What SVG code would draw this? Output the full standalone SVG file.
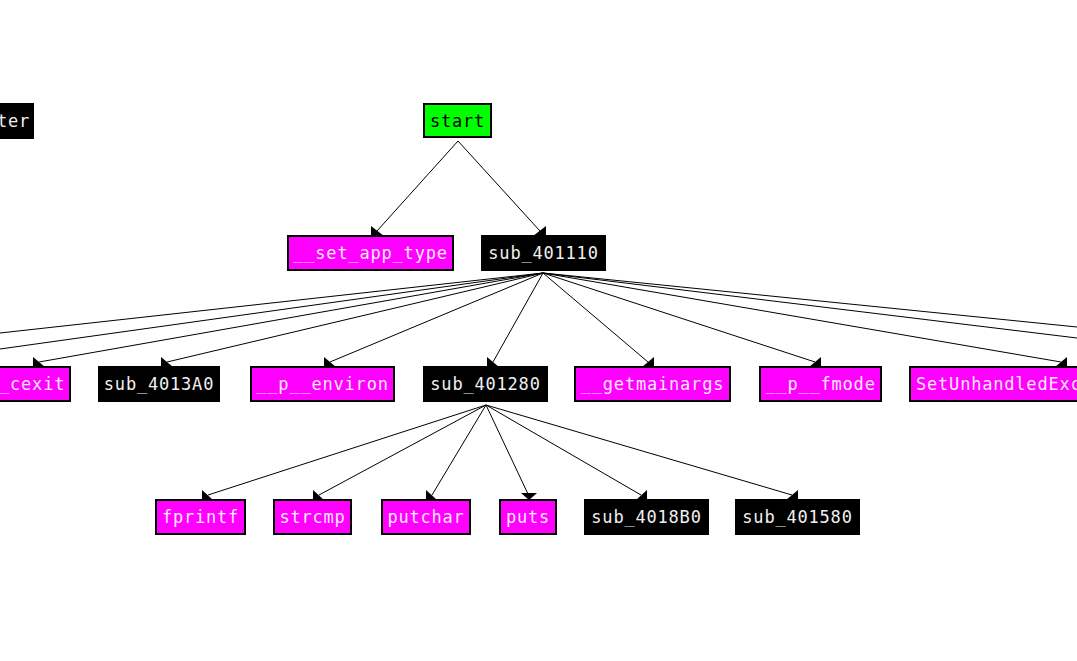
<svg xmlns="http://www.w3.org/2000/svg" width="1077" height="661" viewBox="0 0 1077 661">
<style>
.box{stroke:#000;stroke-width:2}
.blk{fill:#000}
.mag{fill:#ff00ff}
.grn{fill:#00ff00}
text{font-family:"DejaVu Sans Mono","Liberation Mono",monospace;font-size:17px;letter-spacing:0.8px}
.tw{fill:#f0f0f0}
.tm{fill:#ffe8ff}
.tb{fill:#000}
.e line{stroke:#000;stroke-width:1}
.e polygon{fill:#000}
</style>
<rect width="1077" height="661" fill="#fff"/>
<g id="edges" class="e">
<line x1="458" y1="141" x2="377" y2="231"/>
<polygon points="371,226 371,236 384,236"/>
<line x1="458" y1="141" x2="540" y2="231"/>
<polygon points="546,226 546,236 533,236"/>
<line x1="543" y1="273" x2="0" y2="333"/>
<line x1="543" y1="273" x2="0" y2="349"/>
<line x1="543" y1="273" x2="39" y2="362"/>
<polygon points="33,357 33,367 45,367"/>
<line x1="543" y1="273" x2="167" y2="362"/>
<polygon points="161,357 161,367 173,367"/>
<line x1="543" y1="273" x2="330" y2="362"/>
<polygon points="324,357 324,367 336,367"/>
<line x1="543" y1="273" x2="493" y2="362"/>
<polygon points="487,357 487,367 499,367"/>
<line x1="543" y1="273" x2="648" y2="362"/>
<polygon points="654,357 654,367 642,367"/>
<line x1="543" y1="273" x2="815" y2="362"/>
<polygon points="821,357 821,367 809,367"/>
<line x1="543" y1="273" x2="1061" y2="362"/>
<polygon points="1067,357 1067,367 1055,367"/>
<line x1="543" y1="273" x2="1077" y2="327"/>
<line x1="543" y1="273" x2="1077" y2="338"/>
<line x1="486" y1="405" x2="208" y2="495"/>
<polygon points="202,490 202,500 213,500"/>
<line x1="486" y1="405" x2="319" y2="495"/>
<polygon points="313,490 313,500 324,500"/>
<line x1="486" y1="405" x2="432" y2="495"/>
<polygon points="426,490 426,500 437,500"/>
<line x1="486" y1="405" x2="528" y2="494"/>
<polygon points="521,493 537,493 529,500"/>
<line x1="486" y1="405" x2="641" y2="495"/>
<polygon points="647,490 647,500 636,500"/>
<line x1="486" y1="405" x2="792" y2="495"/>
<polygon points="798,490 798,500 786,500"/>
</g>
<g id="node_ter"><rect class="box blk" x="-10" y="104" width="43" height="34"/><text class="tw" x="-3" y="127">ter</text></g>
<g id="node_start"><rect class="box grn" x="424" y="104" width="67" height="33"/><text class="tb" x="457.5" y="127" text-anchor="middle">start</text></g>
<g id="node_set_app_type"><rect class="box mag" x="288" y="236" width="165" height="34"/><text class="tm" x="370.5" y="259" text-anchor="middle">__set_app_type</text></g>
<g id="node_sub_401110"><rect class="box blk" x="482" y="236" width="123" height="34"/><text class="tw" x="543.5" y="259" text-anchor="middle">sub_401110</text></g>
<g id="node_cexit"><rect class="box mag" x="-10" y="367" width="80" height="34"/><text class="tm" x="-1" y="390">_cexit</text></g>
<g id="node_sub_4013A0"><rect class="box blk" x="99" y="367" width="120" height="34"/><text class="tw" x="159" y="390" text-anchor="middle">sub_4013A0</text></g>
<g id="node_p_environ"><rect class="box mag" x="251" y="367" width="143" height="34"/><text class="tm" x="322.5" y="390" text-anchor="middle">__p__environ</text></g>
<g id="node_sub_401280"><rect class="box blk" x="424" y="367" width="123" height="34"/><text class="tw" x="485.5" y="390" text-anchor="middle">sub_401280</text></g>
<g id="node_getmainargs"><rect class="box mag" x="575" y="367" width="155" height="34"/><text class="tm" x="652.5" y="390" text-anchor="middle">__getmainargs</text></g>
<g id="node_p_fmode"><rect class="box mag" x="760" y="367" width="121" height="34"/><text class="tm" x="820.5" y="390" text-anchor="middle">__p__fmode</text></g>
<g id="node_SetUnhandled"><rect class="box mag" x="910" y="367" width="180" height="34"/><text class="tm" x="916" y="390">SetUnhandledExc</text></g>
<g id="node_fprintf"><rect class="box mag" x="156" y="500" width="89" height="34"/><text class="tm" x="200.5" y="523" text-anchor="middle">fprintf</text></g>
<g id="node_strcmp"><rect class="box mag" x="274" y="500" width="77" height="34"/><text class="tm" x="312.5" y="523" text-anchor="middle">strcmp</text></g>
<g id="node_putchar"><rect class="box mag" x="382" y="500" width="88" height="34"/><text class="tm" x="426" y="523" text-anchor="middle">putchar</text></g>
<g id="node_puts"><rect class="box mag" x="500" y="500" width="56" height="34"/><text class="tm" x="528" y="523" text-anchor="middle">puts</text></g>
<g id="node_sub_4018B0"><rect class="box blk" x="585" y="500" width="123" height="34"/><text class="tw" x="646.5" y="523" text-anchor="middle">sub_4018B0</text></g>
<g id="node_sub_401580"><rect class="box blk" x="736" y="500" width="123" height="34"/><text class="tw" x="797.5" y="523" text-anchor="middle">sub_401580</text></g>
</svg>
